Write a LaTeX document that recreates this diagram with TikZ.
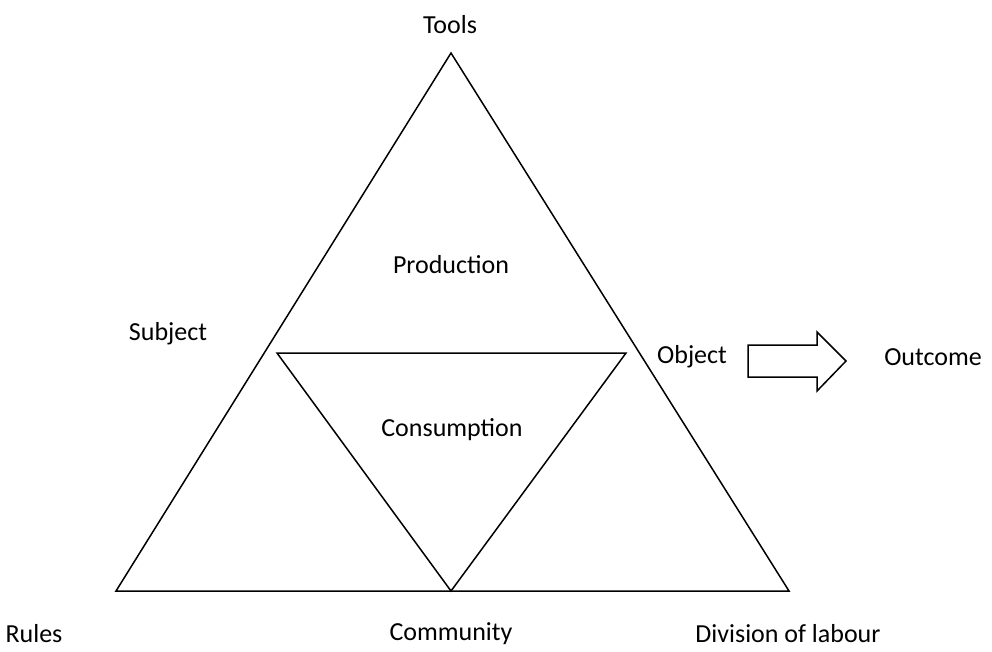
\documentclass[tikz,border=0pt]{standalone}
\usepackage{fontspec}
\setmainfont{Carlito}
\begin{document}
\begin{tikzpicture}[x=1pt,y=-1pt]
    \tikzstyle{label}=[font=\fontsize{26}{31}\selectfont, inner sep=0pt]
    \tikzstyle{edge}=[line width=1.5pt, line join=miter]

    \useasboundingbox (0,0) rectangle (992,651);

    \coordinate (top) at (451,53);
    \coordinate (left) at (116,591);
    \coordinate (right) at (789,591);
    \coordinate (inl) at (277,353);
    \coordinate (inr) at (626,353);
    \coordinate (inb) at (451,591);

    \node[label] (tools) at (450,25) {Tools};
    \node[label] (prod) at (451,265) {Production};
    \node[label] (subj) at (168,334) {Subject};
    \node[label] (obj) at (692,357) {Object};
    \node[label] (out) at (933,357) {Outcome};
    \node[label] (cons) at (452,430) {Consumption};
    \node[label] (rules) at (34,634) {Rules};
    \node[label] (comm) at (451,634) {Community};
    \node[label] (div) at (788,634) {Division of labour};

    \draw[edge] (top) -- (left) -- (right) -- cycle;
    \draw[edge] (inl) -- (inr) -- (inb) -- cycle;

    % block arrow from object to outcome
    \draw[edge] (748,345) -- (817,345) -- (817,332) -- (846,361)
        -- (817,391) -- (817,377) -- (748,377) -- cycle;
\end{tikzpicture}
\end{document}
